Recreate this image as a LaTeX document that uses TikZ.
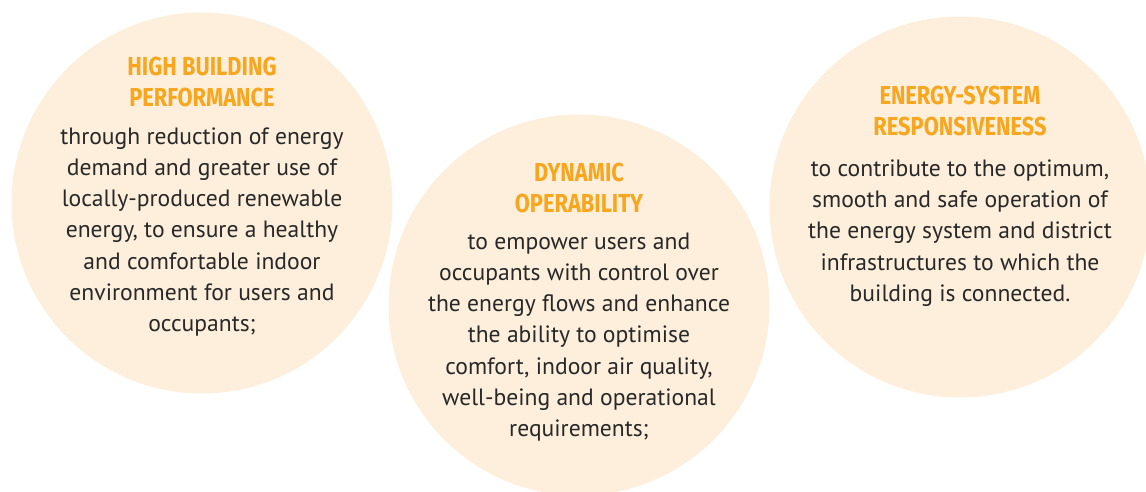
\documentclass[tikz,border=0pt]{standalone}
\usepackage{fontspec}
\usetikzlibrary{positioning}
\newfontfamily\bodyfont{PT Sans}
\newfontfamily\titlefont[FakeStretch=0.84]{Fira Sans}
\definecolor{peach}{RGB}{253,239,219}
\definecolor{amber}{RGB}{247,166,30}
\definecolor{ink}{RGB}{40,40,40}

\begin{document}
\begin{tikzpicture}[x=1pt,y=-1pt]
\tikzstyle{every node}+=[inner sep=0pt]
\tikzstyle{bubble}=[circle,fill=peach,minimum size=381pt]
\tikzstyle{heading}=[text=amber,align=center,font=\titlefont\bfseries\fontsize{26}{30.5}\selectfont]
\tikzstyle{body}=[text=ink,align=center,font=\bodyfont\fontsize{23.6}{31.3}\selectfont]
\useasboundingbox (0,0) rectangle (1146,492);
\node [bubble] (perf) at (202,203) {};
\node [bubble] (oper) at (579,305) {};
\node [bubble] (resp) at (960,207) {};
\node [heading] (perfhead) at (202,82) {HIGH BUILDING\\PERFORMANCE};
\node [body] (perftext) at (202,232) {through reduction of energy\\demand and greater use of\\locally-produced renewable\\energy, to ensure a healthy\\and comfortable indoor\\environment for users and\\occupants;};
\node [heading] (operhead) at (579,188) {DYNAMIC\\OPERABILITY};
\node [body] (opertext) at (579,337) {to empower users and\\occupants with control over\\the energy flows and enhance\\the ability to optimise\\comfort, indoor air quality,\\well-being and operational\\requirements;};
\node [heading] (resphead) at (960,111) {ENERGY-SYSTEM\\RESPONSIVENESS};
\node [body] (resptext) at (960,233) {to contribute to the optimum,\\smooth and safe operation of\\the energy system and district\\infrastructures to which the\\building is connected.};
\end{tikzpicture}
\end{document}
